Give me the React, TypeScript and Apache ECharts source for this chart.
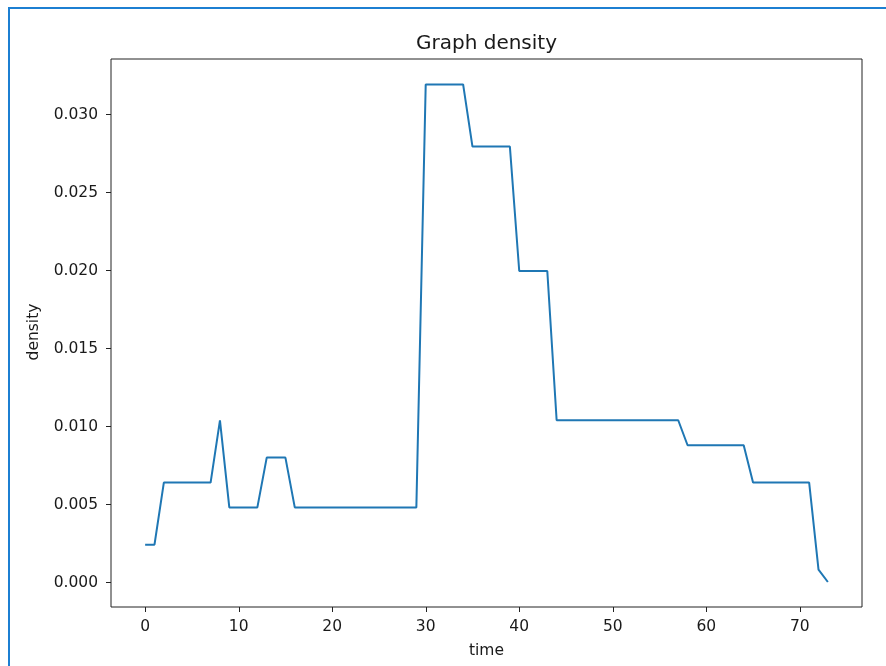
import React, { useEffect, useRef } from "react";
import * as echarts from "echarts";

const times: number[] = Array.from({ length: 74 }, (_, i) => i);
const density: number[] = [
  0.00239, 0.00239, 0.00637, 0.00637, 0.00637, 0.00637, 0.00637, 0.00637,
  0.01036, 0.00478, 0.00478, 0.00478, 0.00478, 0.00797, 0.00797, 0.00797,
  0.00478, 0.00478, 0.00478, 0.00478, 0.00478, 0.00478, 0.00478, 0.00478,
  0.00478, 0.00478, 0.00478, 0.00478, 0.00478, 0.00478, 0.03187, 0.03187,
  0.03187, 0.03187, 0.03187, 0.02789, 0.02789, 0.02789, 0.02789, 0.02789,
  0.01992, 0.01992, 0.01992, 0.01992, 0.01036, 0.01036, 0.01036, 0.01036,
  0.01036, 0.01036, 0.01036, 0.01036, 0.01036, 0.01036, 0.01036, 0.01036,
  0.01036, 0.01036, 0.00876, 0.00876, 0.00876, 0.00876, 0.00876, 0.00876,
  0.00876, 0.00637, 0.00637, 0.00637, 0.00637, 0.00637, 0.00637, 0.00637,
  0.0008, 0.0,
];
const xTicks: number[] = [0, 10, 20, 30, 40, 50, 60, 70];
const yTicks: number[] = [0, 0.005, 0.01, 0.015, 0.02, 0.025, 0.03];

const FONT = "DejaVu Sans";
const TXT = "#1a1a1a";
const TICK_FS = 15.5;
const AX = "#222";

const W = 886;
const H = 666;
const G = { left: 111, right: 24, top: 59, bottom: 59 };
const X_MIN = -3.65;
const X_MAX = 76.65;
const Y_MIN = -0.0016;
const Y_MAX = 0.0335;
const TICK_LEN = 5;

export default function App() {
  const ref = useRef<HTMLDivElement>(null);
  useEffect(() => {
    if (!ref.current) return;
    const chart = echarts.init(ref.current, undefined, { renderer: "svg" });
    chart.setOption({
      animation: false,
      backgroundColor: "transparent",
      grid: {
        left: G.left,
        top: G.top,
        right: G.right,
        bottom: G.bottom,
        show: true,
        borderColor: AX,
        borderWidth: 1,
        backgroundColor: "transparent",
      },
      xAxis: {
        type: "value",
        min: X_MIN,
        max: X_MAX,
        splitLine: { show: false },
        axisLine: { show: false, onZero: false },
        axisTick: { show: false },
        axisLabel: {
          customValues: xTicks,
          margin: 11,
          fontFamily: FONT,
          fontSize: TICK_FS,
          color: TXT,
        },
      },
      yAxis: {
        type: "value",
        min: Y_MIN,
        max: Y_MAX,
        splitLine: { show: false },
        axisLine: { show: false, onZero: false },
        axisTick: { show: false },
        axisLabel: {
          customValues: yTicks,
          margin: 13,
          fontFamily: FONT,
          fontSize: TICK_FS,
          color: TXT,
          formatter: (v: number) => v.toFixed(3),
        },
      },
      series: [
        {
          type: "line",
          data: times.map((t, i) => [t, density[i]]),
          showSymbol: false,
          symbol: "none",
          lineStyle: { color: "#1f77b4", width: 2 },
        },
      ],
    });

    // axis tick marks placed through the chart's own scales
    const bottomY = H - G.bottom;
    const leftX = G.left;
    const tickEls: any[] = [];
    xTicks.forEach((v) => {
      const px = chart.convertToPixel({ xAxisIndex: 0 }, v) as number;
      const x = Math.round(px) + 0.5;
      tickEls.push({
        type: "line",
        shape: { x1: x, y1: bottomY, x2: x, y2: bottomY + TICK_LEN },
        style: { stroke: AX, lineWidth: 1 },
        silent: true,
      });
    });
    yTicks.forEach((v) => {
      const py = chart.convertToPixel({ yAxisIndex: 0 }, v) as number;
      const y = Math.round(py) + 0.5;
      tickEls.push({
        type: "line",
        shape: { x1: leftX - TICK_LEN, y1: y, x2: leftX, y2: y },
        style: { stroke: AX, lineWidth: 1 },
        silent: true,
      });
    });

    chart.setOption({
      graphic: [
        ...tickEls,
        {
          type: "text",
          x: 486.5,
          y: 42,
          style: {
            text: "Graph density",
            fontFamily: FONT,
            fontSize: 20,
            fill: TXT,
            textAlign: "center",
            textVerticalAlign: "middle",
          },
        },
        {
          type: "text",
          x: 486.5,
          y: 650,
          style: {
            text: "time",
            fontFamily: FONT,
            fontSize: TICK_FS,
            fill: TXT,
            textAlign: "center",
            textVerticalAlign: "middle",
          },
        },
        {
          type: "text",
          x: 33,
          y: 332,
          rotation: Math.PI / 2,
          style: {
            text: "density",
            fontFamily: FONT,
            fontSize: TICK_FS,
            fill: TXT,
            textAlign: "center",
            textVerticalAlign: "middle",
          },
        },
      ],
    });
    return () => chart.dispose();
  }, []);
  return (
    <>
      <div
        style={{
          position: "fixed",
          left: 8,
          top: 7,
          width: 878,
          height: 659,
          borderTop: "2px solid #1c7fd2",
          borderLeft: "2px solid #1c7fd2",
          boxSizing: "border-box",
        }}
      />
      <div
        ref={ref}
        style={{ position: "fixed", left: 0, top: 0, width: W, height: H }}
      />
    </>
  );
}
